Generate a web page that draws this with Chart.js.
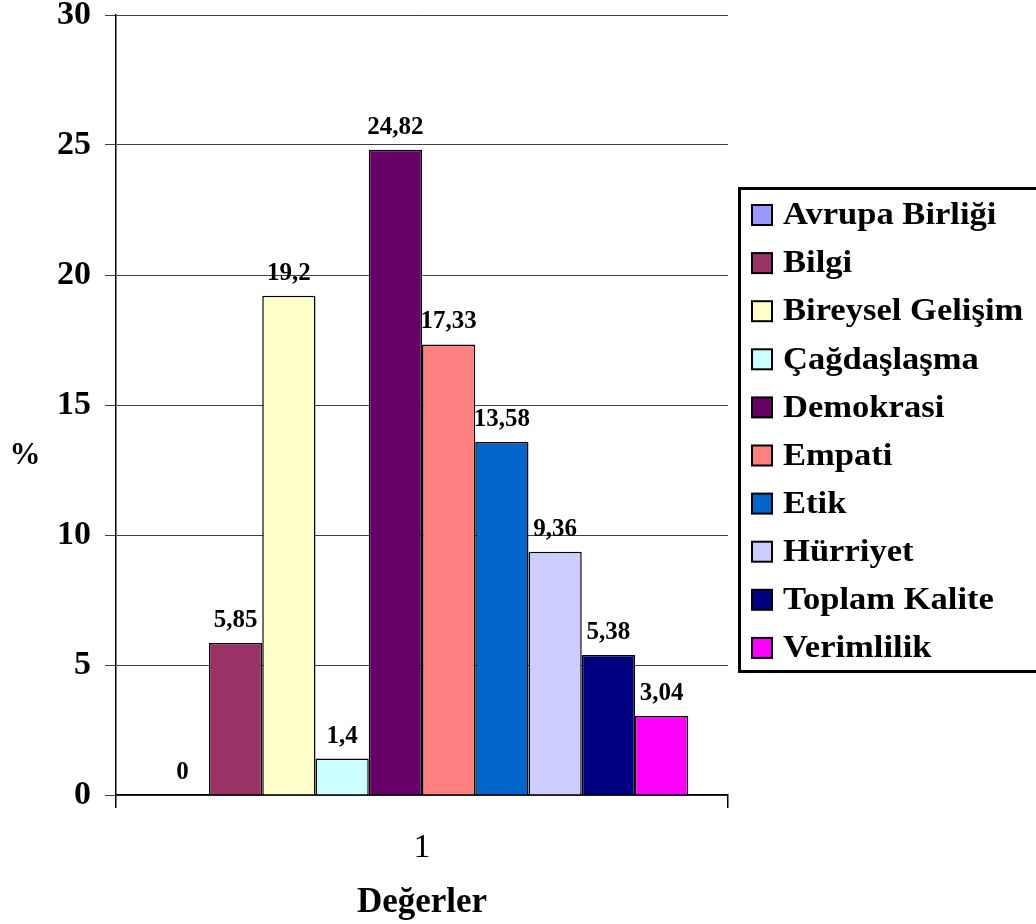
<!DOCTYPE html>
<html>
<head>
<meta charset="utf-8">
<script src="https://cdn.jsdelivr.net/npm/chart.js@4.4.1/dist/chart.umd.min.js"></script>
<style>
  html, body { margin: 0; padding: 0; background: #fff; }
  canvas { display: block; }
</style>
</head>
<body>
<canvas id="grafik" width="1036" height="924"></canvas>
<script>
// veriler
const kategoriler = ["1"];
const seriler = ["Avrupa Birliği", "Bilgi", "Bireysel Gelişim", "Çağdaşlaşma", "Demokrasi",
  "Empati", "Etik", "Hürriyet", "Toplam Kalite", "Verimlilik"];
const degerler = [0, 5.85, 19.2, 1.4, 24.82, 17.33, 13.58, 9.36, 5.38, 3.04];
const renkler = ["#9999FF", "#993366", "#FFFFCC", "#CCFFFF", "#660066",
  "#FF8080", "#0066CC", "#CCCCFF", "#000080", "#FF00FF"];
const yTicks = [0, 5, 10, 15, 20, 25, 30];

const serif = "'Liberation Serif', 'Times New Roman', serif";

// etiketler, % başlığı ve lejant
const ekler = {
  id: "ekler",
  afterDatasetsDraw(chart) {
    const ctx = chart.ctx;
    const alan = chart.chartArea;
    ctx.save();
    ctx.fillStyle = "#000";
    ctx.textAlign = "center";
    ctx.textBaseline = "alphabetic";
    ctx.font = "bold 25px " + serif;
    chart.data.datasets.forEach((ds, i) => {
      const bar = chart.getDatasetMeta(i).data[0];
      const txt = String(ds.data[0]).replace(".", ",");
      ctx.fillText(txt, bar.x, bar.y - 16);
    });

    // y başlığı
    ctx.font = "bold 31px " + serif;
    ctx.textBaseline = "middle";
    ctx.fillText("%", 25, (alan.top + alan.bottom) / 2 + 51);

    // lejant
    const lx = alan.right + 10, ly = 187, lh = 486;
    ctx.lineWidth = 3;
    ctx.strokeStyle = "#000";
    ctx.strokeRect(lx + 1.5, ly + 1.5, 400, lh - 3);
    ctx.font = "bold 32px " + serif;
    ctx.textAlign = "left";
    chart.data.datasets.forEach((ds, i) => {
      const cy = ly + 28 + i * 48.1;
      ctx.fillStyle = ds.backgroundColor;
      ctx.fillRect(lx + 14, cy - 10, 20, 20);
      ctx.lineWidth = 2;
      ctx.strokeRect(lx + 14, cy - 10, 20, 20);
      ctx.fillStyle = "#000";
      ctx.save();
      ctx.translate(lx + 45, cy + 1);
      ctx.scale(1.08, 1);
      ctx.fillText(ds.label, 0, 0);
      ctx.restore();
    });
    ctx.restore();
  }
};

const ctx = document.getElementById("grafik").getContext("2d");
new Chart(ctx, {
  type: "bar",
  data: {
    labels: kategoriler,
    datasets: seriler.map((s, i) => ({
      label: s,
      data: [degerler[i]],
      backgroundColor: renkler[i],
      borderColor: "#000",
      borderWidth: degerler[i] === 0 ? 0 : 1.5,
      categoryPercentage: 0.87,
      barPercentage: 1
    }))
  },
  options: {
    responsive: false,
    animation: false,
    devicePixelRatio: 1,
    layout: { padding: { left: 0, right: 308, top: 15, bottom: 0 } },
    plugins: { legend: { display: false }, tooltip: { enabled: false } },
    scales: {
      x: {
        afterFit(scale) { scale.height = 129; },
        grid: { drawOnChartArea: false, tickLength: 13, color: "#000", lineWidth: 1.5 },
        border: { color: "#000", width: 1.5 },
        ticks: { color: "#000", padding: 20, font: { family: serif, size: 34 } },
        title: {
          display: true, text: "Değerler", color: "#000",
          font: { family: serif, size: 35, weight: "bold" },
          padding: { top: 0, bottom: 0 }
        }
      },
      y: {
        min: 0, max: 30,
        afterFit(scale) { scale.width = 116; scale.paddingTop = 0; scale.paddingBottom = 0; },
        afterBuildTicks(scale) { scale.ticks = yTicks.map(v => ({ value: v })); },
        grid: { color: "#404040", lineWidth: 1, tickLength: 11, tickColor: "#404040" },
        border: { color: "#000", width: 1.5 },
        ticks: { color: "#000", padding: 14, font: { family: serif, size: 34, weight: "bold" } }
      }
    }
  },
  plugins: [ekler]
});
</script>
</body>
</html>
